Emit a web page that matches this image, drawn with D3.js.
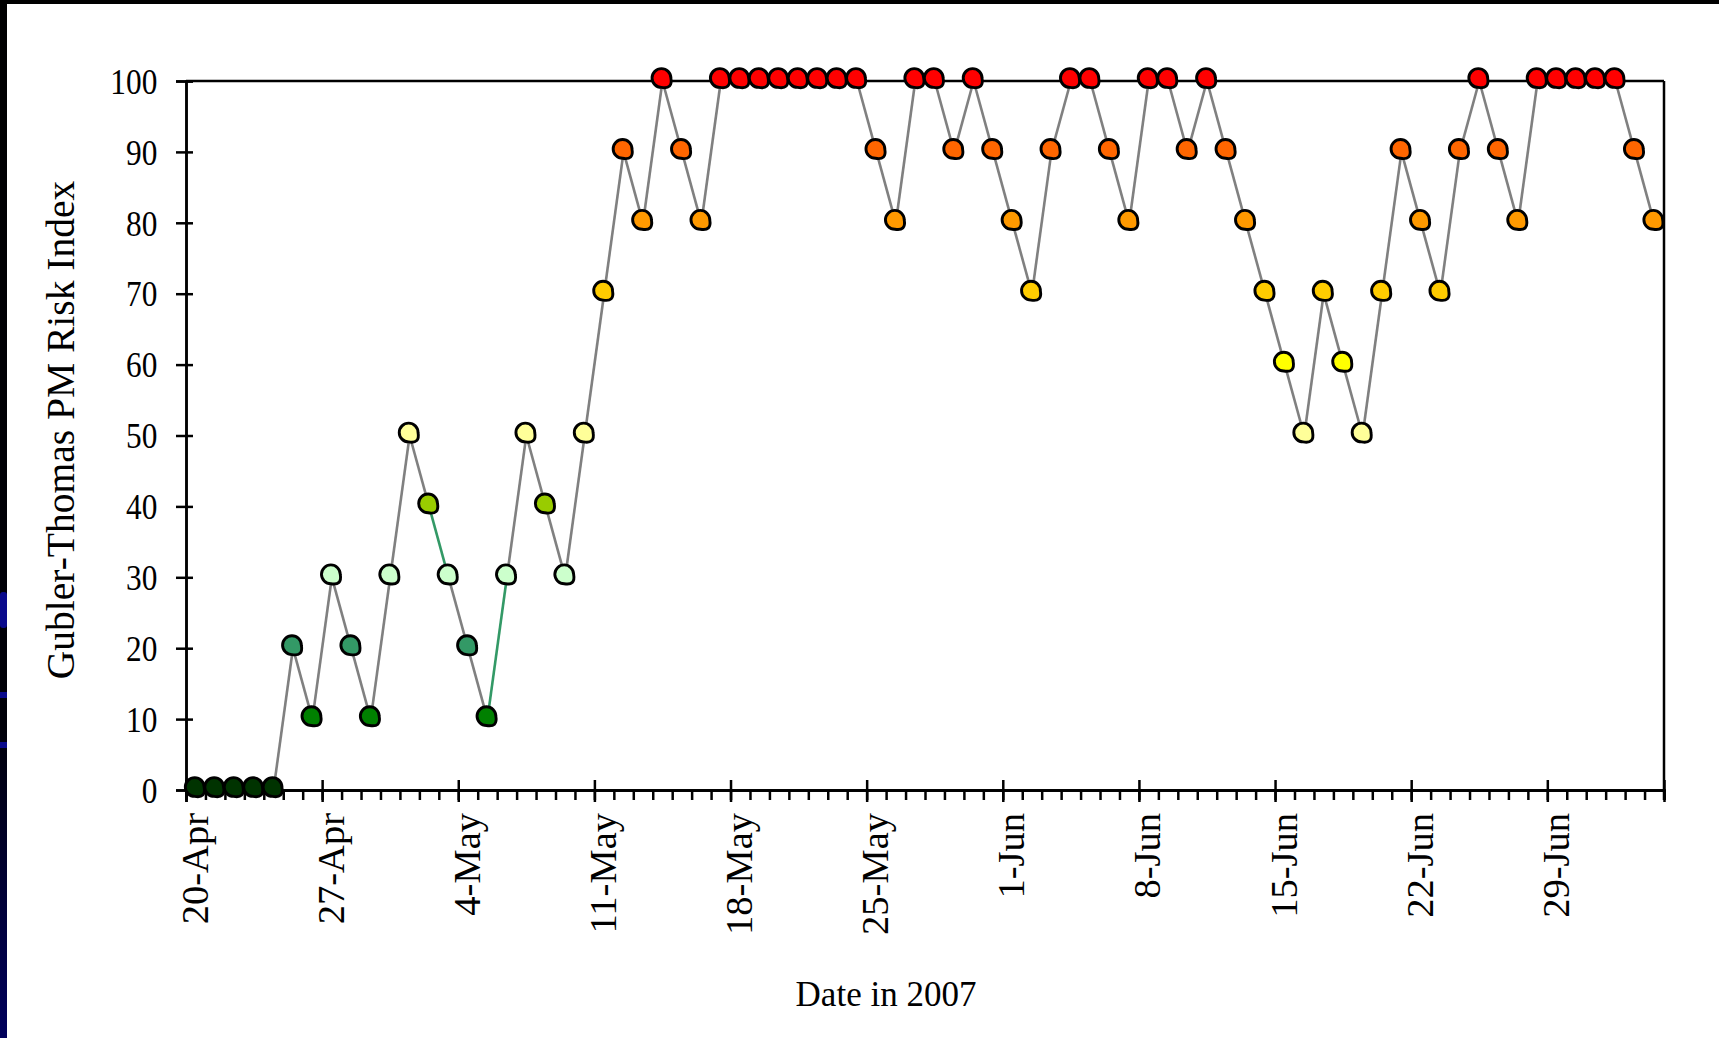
<!DOCTYPE html>
<html>
<head>
<meta charset="utf-8">
<script src="https://cdn.jsdelivr.net/npm/d3@7"></script>
<style>
  html, body { margin: 0; padding: 0; background: #ffffff; }
  svg { display: block; }
  text { font-family: "Liberation Serif", "Times New Roman", serif; fill: #000; }
</style>
</head>
<body>
<svg id="chart" width="1719" height="1038"></svg>
<script>
// ---------------- data ----------------
const startDate = "2007-04-20";          // first day of the daily series
const endDate = "2007-07-05";            // axis end (exclusive)
const riskIndex = [
  0, 0, 0, 0, 0, 20, 10, 30, 20, 10,
  30, 50, 40, 30, 20, 10, 30, 50, 40, 30,
  50, 70, 90, 80, 100, 90, 80, 100, 100, 100,
  100, 100, 100, 100, 100, 90, 80, 100, 100, 90,
  100, 90, 80, 70, 90, 100, 100, 90, 80, 100,
  100, 90, 100, 90, 80, 70, 60, 50, 70, 60,
  50, 70, 90, 80, 70, 90, 100, 90, 80, 100,
  100, 100, 100, 100, 90, 80
];
const xTickLabels = ["20-Apr", "27-Apr", "4-May", "11-May", "18-May", "25-May",
                     "1-Jun", "8-Jun", "15-Jun", "22-Jun", "29-Jun"];
const yTickValues = [0, 10, 20, 30, 40, 50, 60, 70, 80, 90, 100];
const riskLevels = [0, 10, 20, 30, 40, 50, 60, 70, 80, 90, 100];
const highlightedSegments = [13, 16];   // segments (ending at these days) drawn in green
const xTitle = "Date in 2007";
const yTitle = "Gubler-Thomas PM Risk Index";

// ---------------- styles ----------------
const levelColors = ["#003300", "#008000", "#339966", "#CCFFCC", "#99CC00", "#FFFF99",
                     "#FFFF00", "#FFCC00", "#FF9900", "#FF6600", "#FF0000"];
const color = d3.scaleOrdinal().domain(riskLevels).range(levelColors);

const svg = d3.select("#chart");
const W = 1719, H = 1038;
const plot = { left: 186, right: 1664, top: 81, bottom: 790 };

// slide background remnants
const defs = svg.append("defs");
const grad = defs.append("linearGradient").attr("id", "leftGrad")
  .attr("x1", 0).attr("y1", 0).attr("x2", 0).attr("y2", 1);
grad.append("stop").attr("offset", "0%").attr("stop-color", "#000000");
grad.append("stop").attr("offset", "70%").attr("stop-color", "#000008");
grad.append("stop").attr("offset", "100%").attr("stop-color", "#00005c");
svg.append("rect").attr("x", 0).attr("y", 0).attr("width", W).attr("height", H).attr("fill", "#fff");
svg.append("rect").attr("x", 0).attr("y", 0).attr("width", 7).attr("height", H).attr("fill", "url(#leftGrad)");
svg.append("rect").attr("x", 0).attr("y", 0).attr("width", W).attr("height", 4).attr("fill", "#000");
const blue = svg.append("g").attr("fill", "#0a0a8c");
blue.append("rect").attr("x", 0).attr("y", 592).attr("width", 7).attr("height", 36).attr("rx", 3);
blue.append("rect").attr("x", 0).attr("y", 692).attr("width", 7).attr("height", 6);
blue.append("rect").attr("x", 0).attr("y", 742).attr("width", 7).attr("height", 6);

// ---------------- scales ----------------
const parse = d3.utcParse("%Y-%m-%d");
const d0 = parse(startDate), d1 = parse(endDate);
const days = riskIndex.map((v, i) => d3.utcDay.offset(d0, i));
const x = d3.scaleUtc().domain([d0, d1]).range([plot.left, plot.right]);
const y = d3.scaleLinear().domain([0, 100]).range([plot.bottom, plot.top]);
const xc = (d) => x(d3.utcHour.offset(d, 12));   // points sit between tick marks

const allDays = d3.utcDay.range(d0, d3.utcDay.offset(d1, 1));
const majorDays = xTickLabels.map((_, i) => d3.utcDay.offset(d0, 7 * i));

// ---------------- axes ----------------
const axesG = svg.append("g");
// top & right frame
axesG.append("line").attr("x1", plot.left).attr("x2", plot.right).attr("y1", plot.top).attr("y2", plot.top)
  .attr("stroke", "#000").attr("stroke-width", 2.5);
axesG.append("line").attr("x1", plot.right).attr("x2", plot.right).attr("y1", plot.top).attr("y2", plot.bottom + 10)
  .attr("stroke", "#000").attr("stroke-width", 2.5);

// minor x ticks
const xMinor = axesG.append("g").attr("transform", `translate(0,${plot.bottom})`)
  .call(d3.axisBottom(x).tickValues(allDays).tickSize(10).tickFormat(""));
// major x ticks crossing the axis
const xMajorIn = axesG.append("g").attr("transform", `translate(0,${plot.bottom})`)
  .call(d3.axisBottom(x).tickValues(majorDays).tickSize(-10).tickFormat(""));
const xMajor = axesG.append("g").attr("transform", `translate(0,${plot.bottom})`)
  .call(d3.axisBottom(x).tickValues(majorDays).tickSize(12).tickFormat((d, i) => xTickLabels[i]));
[xMinor, xMajorIn, xMajor].forEach(g => {
  g.selectAll(".domain").attr("stroke", "#000").attr("stroke-width", 2.5);
  g.selectAll(".tick line").attr("stroke", "#000").attr("stroke-width", 2.5);
});
xMajor.selectAll(".tick text")
  .attr("transform", "rotate(-90)")
  .attr("text-anchor", "end")
  .attr("x", -23).attr("y", 21).attr("dy", 0)
  .style("font-size", "38.5px")
  .style("font-family", '"Liberation Serif", "Times New Roman", serif')
  .attr("fill", "#000");

// y axis with crossing ticks
const yIn = axesG.append("g").attr("transform", `translate(${plot.left},0)`)
  .call(d3.axisLeft(y).tickValues(yTickValues).tickSize(-7).tickFormat(""));
const yOut = axesG.append("g").attr("transform", `translate(${plot.left},0)`)
  .call(d3.axisLeft(y).tickValues(yTickValues).tickSize(10).tickFormat(d3.format("d")));
[yIn, yOut].forEach(g => {
  g.selectAll(".domain").attr("stroke", "#000").attr("stroke-width", 2.5);
  g.selectAll(".tick line").attr("stroke", "#000").attr("stroke-width", 2.5);
});
yOut.selectAll(".tick text")
  .attr("x", -33).attr("dy", "0.34em")
  .attr("transform", "scale(0.87,1)")
  .attr("text-anchor", "end")
  .style("font-size", "36px")
  .style("font-family", '"Liberation Serif", "Times New Roman", serif')
  .attr("fill", "#000");

// titles
svg.append("text").attr("x", 886).attr("y", 1006).attr("text-anchor", "middle")
  .style("font-size", "35px").text(xTitle);
svg.append("text").attr("transform", "translate(74,430) rotate(-90)").attr("text-anchor", "middle")
  .style("font-size", "39.5px").text(yTitle);

// ---------------- series ----------------
const pts = riskIndex.map((v, i) => ({ d: days[i], v, i }));
const segs = pts.slice(1).map((p, k) => ({ a: pts[k], b: p, i: p.i }));
svg.append("g").selectAll("line").data(segs).join("line")
  .attr("x1", s => xc(s.a.d)).attr("y1", s => y(s.a.v))
  .attr("x2", s => xc(s.b.d)).attr("y2", s => y(s.b.v))
  .attr("stroke", s => highlightedSegments.includes(s.i) ? "#339966" : "#808080")
  .attr("stroke-width", 2.6);

const r = 9.4;
const markerPath = `M0,${-r} A${r},${r} 0 0 0 ${-r},0 A${r},${r} 0 0 0 0,${r} Q${1.22 * r},${1.22 * r} ${r},0 A${r},${r} 0 0 0 0,${-r} Z`;
svg.append("g").selectAll("path").data(pts).join("path")
  .attr("d", markerPath)
  .attr("transform", p => `translate(${xc(p.d) - 1},${y(p.v) - 3})`)
  .attr("fill", p => color(p.v))
  .attr("stroke", "#000").attr("stroke-width", 2.9)
  .attr("stroke-linejoin", "round");
</script>
</body>
</html>
